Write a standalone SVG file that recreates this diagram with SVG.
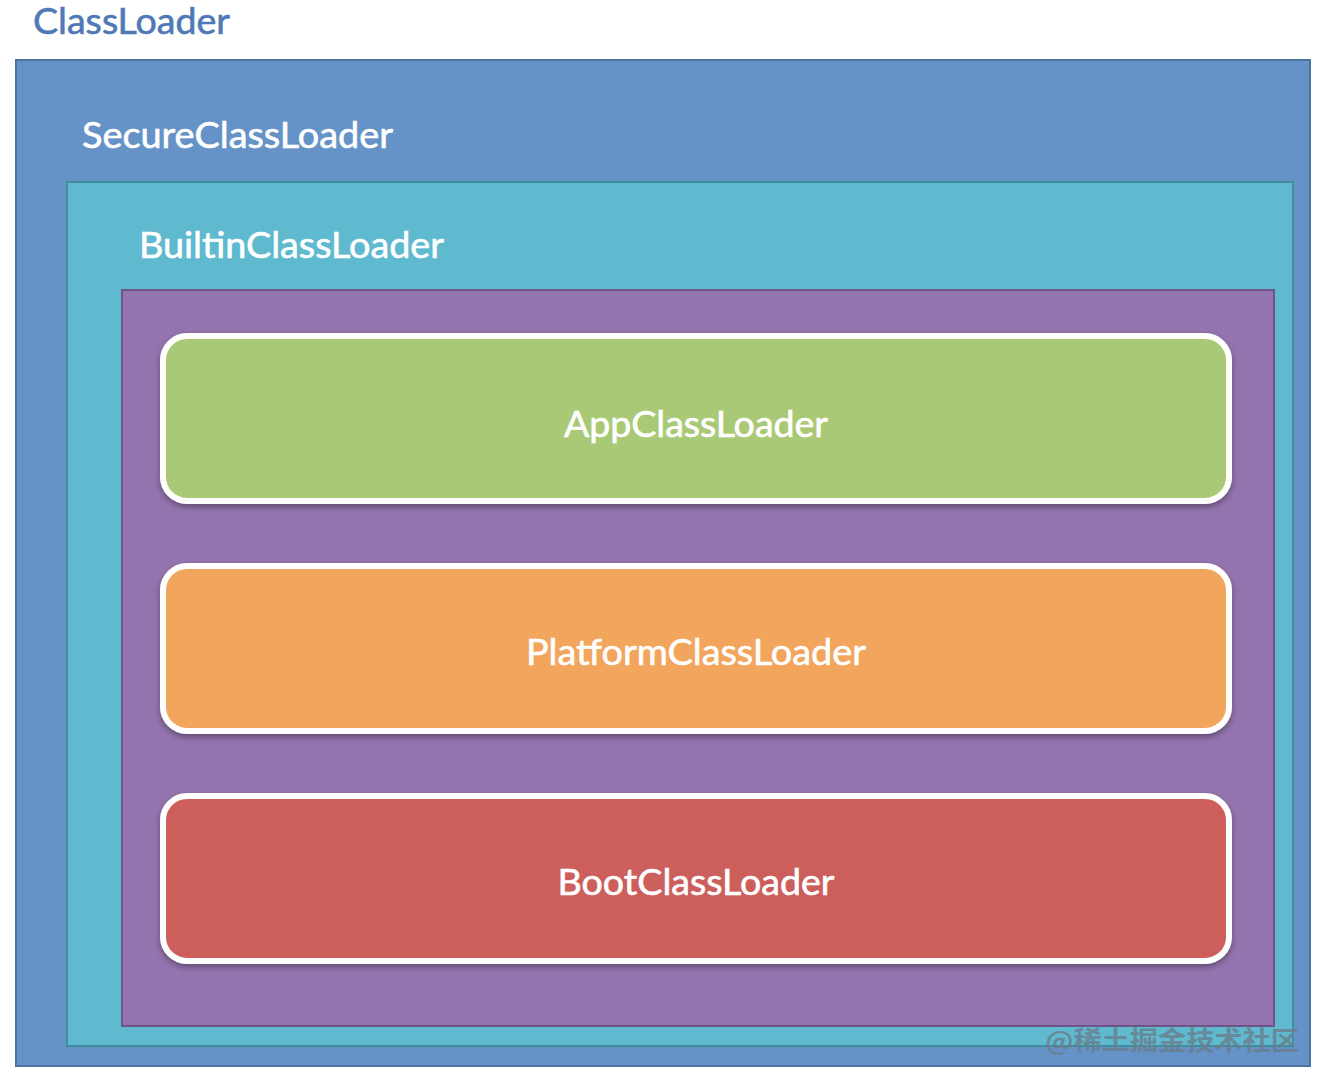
<svg xmlns="http://www.w3.org/2000/svg" width="1318" height="1090" viewBox="0 0 1318 1090">
<style>
.lbl{font-family:Lato,"Open Sans","Liberation Sans",sans-serif;font-size:36px;fill:#ffffff;stroke:#ffffff;stroke-width:0.6}
.inner{stroke:#ffffff;stroke-width:6}
</style>
<defs>
<filter id="sh" x="-5%" y="-10%" width="110%" height="130%">
<feDropShadow dx="0" dy="3" stdDeviation="3" flood-color="#000" flood-opacity="0.35"/>
</filter>
</defs>
<rect width="1318" height="1090" fill="#ffffff"/>
<g id="classloader">
<text x="33" y="34" class="lbl" style="fill:#4f79b6;stroke:#4f79b6" textLength="197" lengthAdjust="spacingAndGlyphs">ClassLoader</text>
<rect x="16" y="60" width="1294" height="1006" fill="#6593c7" stroke="#4d73a3" stroke-width="2"/>
</g>
<g id="secureclassloader">
<text x="82" y="148" class="lbl" textLength="311" lengthAdjust="spacingAndGlyphs">SecureClassLoader</text>
<rect x="67" y="182" width="1226" height="864" fill="#5fb9cf" stroke="#3f8e9c" stroke-width="2"/>
</g>
<g id="builtinclassloader">
<text x="139" y="258" class="lbl" textLength="305" lengthAdjust="spacingAndGlyphs">BuiltinClassLoader</text>
<rect x="122" y="290" width="1152" height="736" fill="#9474ae" stroke="#6f5488" stroke-width="2"/>
</g>
<g id="appclassloader">
<rect x="163" y="336" width="1066" height="165" rx="24" fill="#aac977" class="inner" filter="url(#sh)"/>
<text x="696" y="437" class="lbl" text-anchor="middle" textLength="264" lengthAdjust="spacingAndGlyphs">AppClassLoader</text>
</g>
<g id="platformclassloader">
<rect x="163" y="566" width="1066" height="165" rx="24" fill="#f2a55c" class="inner" filter="url(#sh)"/>
<text x="696" y="665" class="lbl" text-anchor="middle" textLength="340" lengthAdjust="spacingAndGlyphs">PlatformClassLoader</text>
</g>
<g id="bootclassloader">
<rect x="163" y="796" width="1066" height="165" rx="24" fill="#cc5f5c" class="inner" filter="url(#sh)"/>
<text x="696" y="895" class="lbl" text-anchor="middle" textLength="277" lengthAdjust="spacingAndGlyphs">BootClassLoader</text>
</g>
<g id="connectors"></g>
<text x="1045" y="1050" style="font-family:'Noto Sans CJK SC',sans-serif;font-size:26px;font-weight:bold;fill:#6a7d8c;fill-opacity:0.8" textLength="254" lengthAdjust="spacingAndGlyphs">@稀土掘金技术社区</text>
</svg>
